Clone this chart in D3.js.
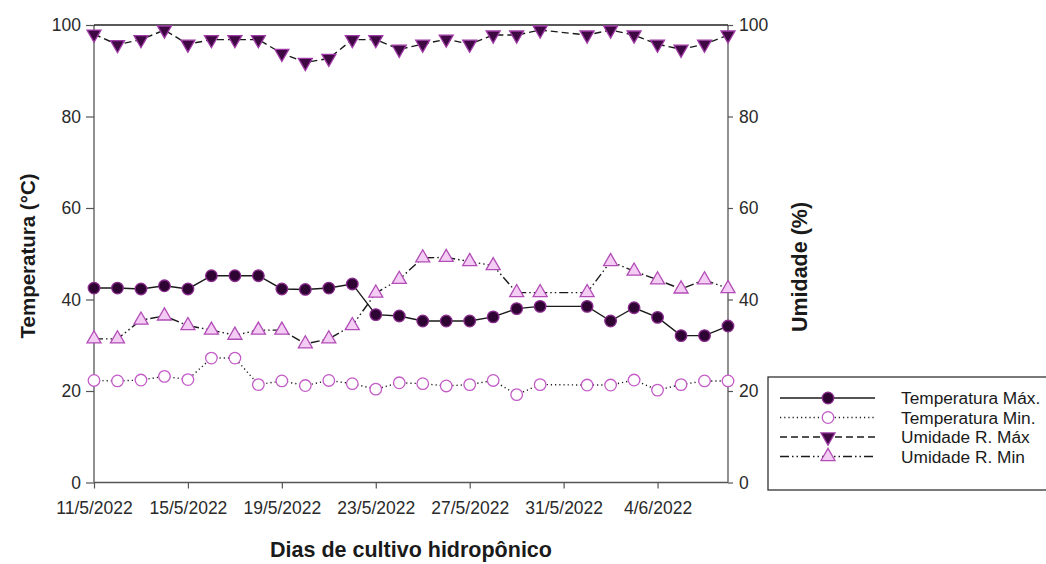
<!DOCTYPE html>
<html>
<head>
<meta charset="utf-8">
<script src="https://cdn.jsdelivr.net/npm/d3@7"></script>
<style>
  body { margin: 0; background: #fff; }
  svg { display: block; font-family: Arial, "Liberation Sans", sans-serif; }
</style>
</head>
<body>
<svg class="chart"></svg>
<script>
// days of the trial (31/5 has no reading)
const dates = [
  '2022-05-11', '2022-05-12', '2022-05-13', '2022-05-14', '2022-05-15', '2022-05-16', '2022-05-17',
  '2022-05-18', '2022-05-19', '2022-05-20', '2022-05-21', '2022-05-22', '2022-05-23', '2022-05-24',
  '2022-05-25', '2022-05-26', '2022-05-27', '2022-05-28', '2022-05-29', '2022-05-30',
  '2022-06-01', '2022-06-02', '2022-06-03', '2022-06-04', '2022-06-05', '2022-06-06', '2022-06-07'
];
const tempMax = [42.5, 42.5, 42.3, 43.0, 42.3, 45.2, 45.2, 45.2, 42.3, 42.2, 42.5, 43.4, 36.7, 36.4,
  35.3, 35.3, 35.3, 36.2, 38.0, 38.5, 38.5, 35.3, 38.2, 36.1, 32.1, 32.1, 34.2];
const tempMin = [22.3, 22.2, 22.4, 23.2, 22.5, 27.2, 27.2, 21.4, 22.2, 21.2, 22.3, 21.6, 20.4, 21.8,
  21.6, 21.1, 21.4, 22.3, 19.2, 21.4, 21.3, 21.3, 22.4, 20.2, 21.4, 22.2, 22.2];
const umidMax = [98.0, 95.7, 96.8, 98.9, 95.8, 96.8, 96.8, 96.8, 93.8, 91.8, 92.7, 96.8, 96.8, 94.7,
  95.8, 96.9, 95.8, 97.8, 97.8, 98.9, 97.8, 98.9, 97.8, 95.8, 94.7, 95.8, 97.8];
const umidMin = [31.4, 31.4, 35.5, 36.4, 34.3, 33.3, 32.2, 33.3, 33.3, 30.3, 31.4, 34.3, 41.4, 44.4,
  49.1, 49.2, 48.3, 47.4, 41.5, 41.5, 41.5, 48.3, 46.2, 44.3, 42.3, 44.3, 42.4];

const xTicks = ['2022-05-11', '2022-05-15', '2022-05-19', '2022-05-23', '2022-05-27', '2022-05-31', '2022-06-04'];
const yTicks = [0, 20, 40, 60, 80, 100];

const seriesNames = ['Temperatura Máx.', 'Temperatura Min.', 'Umidade R. Máx', 'Umidade R. Min'];

const width = 1046;
const height = 564;
const plot = { left: 94, right: 728, top: 25, bottom: 482.5 };

const parse = d3.timeParse('%Y-%m-%d');
const days = dates.map(parse);

const svg = d3.select('.chart').attr('width', width).attr('height', height);

const x = d3.scaleTime()
  .domain([parse('2022-05-11'), parse('2022-06-07')])
  .range([plot.left, plot.right]);
const yLeft = d3.scaleLinear().domain([0, 100]).range([plot.bottom, plot.top]);
const yRight = d3.scaleLinear().domain([0, 100]).range([plot.bottom, plot.top]);

const series = [
  { name: seriesNames[0], values: tempMax, y: yLeft, dash: null, marker: 'circle', fill: '#2e0433', stroke: '#8a2a8e' },
  { name: seriesNames[1], values: tempMin, y: yLeft, dash: '1.2,3', marker: 'circle', fill: '#fff', stroke: '#c45cc8' },
  { name: seriesNames[2], values: umidMax, y: yRight, dash: '7,4', marker: 'down', fill: '#3e0842', stroke: '#a03aa6' },
  { name: seriesNames[3], values: umidMin, y: yRight, dash: '9,3,1.5,3,1.5,3', marker: 'up', fill: '#f4cdf5', stroke: '#b24cb6' }
];

const symbolPath = {
  circle: d3.symbol().type(d3.symbolCircle).size(105)(),
  up: d3.symbol().type(d3.symbolTriangle).size(85)(),
  down: d3.symbol().type(d3.symbolTriangle).size(85)()
};

// axes
const axisColor = '#555';
const xAxis = svg.append('g')
  .attr('transform', `translate(0,${plot.bottom})`)
  .call(d3.axisBottom(x)
    .tickValues(xTicks.map(parse))
    .tickFormat(d3.timeFormat('%-d/%-m/%Y'))
    .tickSize(6)
    .tickPadding(13));

const leftAxis = svg.append('g')
  .attr('transform', `translate(${plot.left},0)`)
  .call(d3.axisLeft(yLeft).tickValues(yTicks).tickSize(8).tickPadding(5));

const rightAxis = svg.append('g')
  .attr('transform', `translate(${plot.right},0)`)
  .call(d3.axisRight(yRight).tickValues(yTicks).tickSize(5).tickPadding(6));

[xAxis, leftAxis, rightAxis].forEach(a => {
  a.select('.domain').attr('stroke', axisColor).attr('stroke-width', 1.3);
  a.selectAll('.tick line').attr('stroke', axisColor).attr('stroke-width', 1.2);
  a.selectAll('.tick text')
    .attr('fill', '#2a2a2a')
    .attr('font-size', '17.5px')
    .attr('font-family', 'Arial, "Liberation Sans", sans-serif');
});
// outer tick stubs off
xAxis.select('.domain').attr('d', `M${plot.left},0H${plot.right}`);
leftAxis.select('.domain').attr('d', `M0,${plot.bottom}V${plot.top}`);
rightAxis.select('.domain').attr('d', `M0,${plot.bottom}V${plot.top}`);

// top frame line
svg.append('line')
  .attr('x1', plot.left).attr('x2', plot.right)
  .attr('y1', plot.top).attr('y2', plot.top)
  .attr('stroke', '#222').attr('stroke-width', 1.3);

// lines and markers
series.forEach(s => {
  const line = d3.line()
    .x((d, i) => x(days[i]))
    .y(d => s.y(d));

  svg.append('path')
    .datum(s.values)
    .attr('d', line)
    .attr('fill', 'none')
    .attr('stroke', '#1a1a1a')
    .attr('stroke-width', 1.4)
    .attr('stroke-dasharray', s.dash);

  svg.append('g')
    .selectAll('path')
    .data(s.values)
    .join('path')
    .attr('d', symbolPath[s.marker])
    .attr('transform', (d, i) => `translate(${x(days[i])},${s.y(d)})` + (s.marker === 'down' ? ' rotate(180)' : ''))
    .attr('fill', s.fill)
    .attr('stroke', s.stroke)
    .attr('stroke-width', 1.3);
});

// axis titles
svg.append('text')
  .attr('x', (plot.left + plot.right) / 2)
  .attr('y', 557)
  .attr('text-anchor', 'middle')
  .attr('font-size', '21.5px')
  .attr('font-weight', 'bold')
  .attr('fill', '#1a1a1a')
  .text('Dias de cultivo hidropônico');

svg.append('text')
  .attr('transform', 'rotate(-90)')
  .attr('x', -256)
  .attr('y', 35)
  .attr('text-anchor', 'middle')
  .attr('font-size', '20.5px')
  .attr('font-weight', 'bold')
  .attr('fill', '#1a1a1a')
  .text('Temperatura (°C)');

svg.append('text')
  .attr('transform', 'rotate(-90)')
  .attr('x', -267)
  .attr('y', 807)
  .attr('text-anchor', 'middle')
  .attr('font-size', '21.5px')
  .attr('font-weight', 'bold')
  .attr('fill', '#1a1a1a')
  .text('Umidade (%)');

// legend
const legend = svg.append('g').attr('transform', 'translate(768,377)');
legend.append('rect')
  .attr('width', 300).attr('height', 113)
  .attr('fill', '#fff')
  .attr('stroke', '#333').attr('stroke-width', 1.3);

const rowY = [21, 40.5, 60, 79.5];
const item = legend.selectAll('g.item')
  .data(series)
  .join('g')
  .attr('class', 'item')
  .attr('transform', (d, i) => `translate(0,${rowY[i]})`);

item.append('line')
  .attr('x1', 12).attr('x2', 107)
  .attr('stroke', '#1a1a1a')
  .attr('stroke-width', 1.4)
  .attr('stroke-dasharray', d => d.dash);

item.append('path')
  .attr('d', d => symbolPath[d.marker])
  .attr('transform', d => 'translate(60,0)' + (d.marker === 'down' ? ' rotate(180)' : ''))
  .attr('fill', d => d.fill)
  .attr('stroke', d => d.stroke)
  .attr('stroke-width', 1.3);

item.append('text')
  .attr('x', 133)
  .attr('dy', '0.35em')
  .attr('font-size', '17.3px')
  .attr('fill', '#1a1a1a')
  .text(d => d.name);
</script>
</body>
</html>
